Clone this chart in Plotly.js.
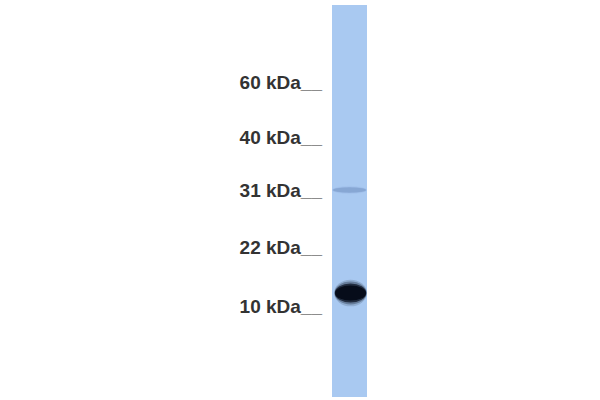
<!DOCTYPE html>
<html>
<head>
<meta charset="utf-8">
<script src="https://cdn.plot.ly/plotly-3.0.1.min.js"></script>
<style>
  html, body { margin: 0; padding: 0; background: #fff; }
  #blot { width: 600px; height: 400px; }
</style>
</head>
<body>
<div id="blot"></div>
<script>
// ladder markers (migration measured in px from the top of the image)
const markerLabels = ['60 kDa', '40 kDa', '31 kDa', '22 kDa', '10 kDa'];
const markerPos = [82, 137, 190, 247, 306];

// bands detected in the lane
const bandPos = [190, 293];
const bandHeight = [6, 19];
const bandStrength = [0.16, 1];
const bandSpan = [[0.02, 0.98], [0.08, 0.98]];   // fraction of lane width

const laneTop = 5, laneBottom = 397;

// band shapes: a few stacked ellipses so the edges look soft
const shapes = [];
bandPos.forEach((y, i) => {
    const [x0, x1] = bandSpan[i];
    const h = bandHeight[i];
    const s = bandStrength[i];
    const layers = [
        {grow: 1.4, op: 0.15},
        {grow: 1.2, op: 0.3},
        {grow: 1.0, op: 0.7},
        {grow: 0.8, op: 1.0}
    ];
    layers.forEach(l => {
        const w = (x1 - x0) / 2 * (0.9 + 0.1 * l.grow);
        const cx = (x0 + x1) / 2;
        shapes.push({
            type: 'circle', xref: 'x', yref: 'y',
            x0: cx - w, x1: cx + w,
            y0: y - h / 2 * l.grow, y1: y + h / 2 * l.grow,
            line: {width: 0},
            fillcolor: s > 0.5 ? 'rgba(6,12,26,' + (l.op * s) + ')'
                               : 'rgba(60,95,150,' + (l.op * s) + ')',
            layer: 'above'
        });
    });
});

const traces = [{
    // invisible trace so the axes exist
    x: [0.5], y: [laneTop],
    mode: 'markers', type: 'scatter',
    marker: {opacity: 0}, hoverinfo: 'skip'
}];

const layout = {
    width: 600, height: 400,
    margin: {l: 332, r: 233, t: laneTop, b: 400 - laneBottom, pad: 0},
    paper_bgcolor: '#ffffff',
    plot_bgcolor: '#a9c9f1',
    showlegend: false,
    xaxis: {range: [0, 1], visible: false, fixedrange: true},
    yaxis: {
        range: [laneBottom, laneTop],
        tickvals: markerPos,
        ticktext: markerLabels.map(t => t + '__'),
        ticks: '', showgrid: false, zeroline: false, showline: false,
        ticklabelstandoff: 9,
        tickfont: {family: 'Liberation Sans, Arial', size: 19, color: '#333333', weight: 'bold'}
    },
    shapes: shapes
};

Plotly.newPlot('blot', traces, layout, {displayModeBar: false, staticPlot: true});
</script>
</body>
</html>
